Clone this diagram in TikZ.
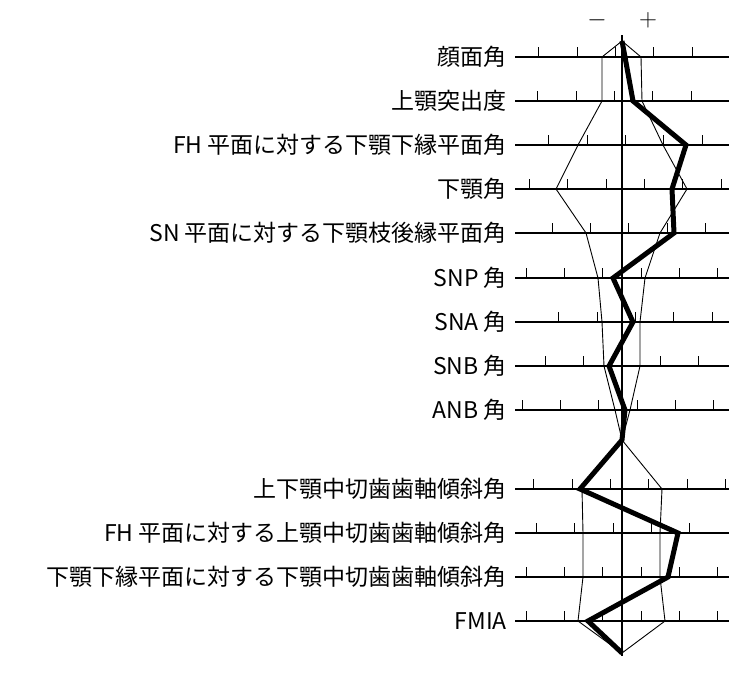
\documentclass[tikz,border=0pt]{standalone}
\usepackage{fontspec}
\newfontfamily\cjk{Noto Sans CJK JP}
\usetikzlibrary{positioning}
\begin{document}
\begin{tikzpicture}[x=1pt,y=-1pt,
    lbl/.style={anchor=east, font=\cjk\fontsize{23}{26}\selectfont, inner sep=0pt},
    axis/.style={line width=2pt},
    tick/.style={line width=1pt},
    norm/.style={line width=0.9pt},
    patient/.style={line width=5pt, line join=miter}
]
\useasboundingbox (0,0) rectangle (742,673);

% sign marks
\node[font=\fontsize{26}{28}\selectfont] (minus) at (597,20) {$-$};
\node[font=\fontsize{26}{28}\selectfont] (plus) at (648,20) {$+$};

% rows: y / label / tick positions
\foreach \n/\y/\t/\ticks in {
    r1/57/顔面角/{538,577,615,653,692},
    r2/101/上顎突出度/{537,576,614,652,691},
    r3/145/FH 平面に対する下顎下縁平面角/{548,587,625,663,702},
    r4/189/下顎角/{529,567,606,644,682,721},
    r5/233/SN 平面に対する下顎枝後縁平面角/{552,590,628,667,705},
    r6/278/SNP 角/{526,564,602,641,679,717},
    r7/322/SNA 角/{558,597,635,673,712},
    r8/366/SNB 角/{545,583,660,698},
    r9/410/ANB 角/{522,560,598,637,675,713},
    r10/489/上下顎中切歯歯軸傾斜角/{533,572,610,648,687,725},
    r11/533/FH 平面に対する上顎中切歯歯軸傾斜角/{536,574,613,651,689},
    r12/577/下顎下縁平面に対する下顎中切歯歯軸傾斜角/{526,564,602,641,679,717},
    r13/621/FMIA/{526,564,602,641,679,717}}{
  \node[lbl] (\n) at (507,\y) {\t};
  \coordinate (\n-a) at (515,\y);
  \coordinate (\n-b) at (729,\y);
  \draw[axis] (\n-a) -- (\n-b);
  \foreach \k in \ticks {\draw[tick] (\k,\y) -- ++(0,-10);}
}

% centre line
\coordinate (top) at (622,35);
\coordinate (bot) at (622,656);
\draw[line width=1.6pt] (top) -- (bot);

% norm band
\draw[norm] (622,41) -- (602,57) -- (602,101) -- (578,145) -- (556,189)
  -- (586,233) -- (598,278) -- (602,322) -- (604,366) -- (615,410) -- (622,440)
  -- (582,489) -- (583,533) -- (583,577) -- (578,621) -- (622,653);
\draw[norm] (622,41) -- (641,57) -- (642,101) -- (663,145) -- (687,189)
  -- (660,233) -- (645,278) -- (640,322) -- (640,366) -- (630,410) -- (622,440)
  -- (662,489) -- (660,533) -- (660,577) -- (665,621) -- (622,653);

% patient polygon
\draw[patient] (622,41) -- (625,57) -- (633,101) -- (686,145) -- (672,189)
  -- (674,233) -- (613,278) -- (633,322) -- (609,366) -- (625,410) -- (622,440)
  -- (580,489) -- (678,533) -- (668,577) -- (588,621) -- (622,653);
\end{tikzpicture}
\end{document}
